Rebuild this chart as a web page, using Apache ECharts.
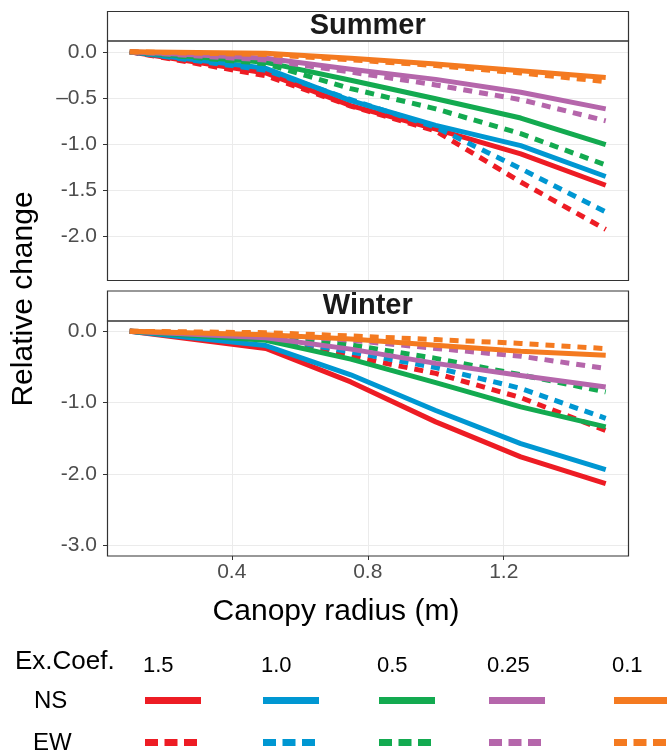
<!DOCTYPE html>
<html>
<head>
<meta charset="utf-8">
<script src="https://cdn.jsdelivr.net/npm/echarts@6/dist/echarts.min.js"></script>
<style>
  html, body { margin: 0; padding: 0; background: #fff; }
  #chart { width: 667px; height: 753px; }
</style>
</head>
<body>
<div id="chart"></div>
<script>
// canopy radius (m)
var radius = [0.1, 0.5, 0.75, 1.0, 1.25, 1.5]
var coefs = ['1.5', '1.0', '0.5', '0.25', '0.1']
var colors = ['#ED1C24', '#0097D2', '#13AA50', '#B566AB', '#F47A20']
var xTicks = [0.4, 0.8, 1.2]
var summerTicks = [-2.0, -1.5, -1.0, -0.5, 0.0]
var winterTicks = [-3.0, -2.0, -1.0, 0.0]

// relative change, one row per ex. coef (1.5, 1.0, 0.5, 0.25, 0.1)
var summerNS = [
  [0, -0.23, -0.585, -0.84, -1.11, -1.45],
  [0, -0.18, -0.53, -0.80, -1.02, -1.355],
  [0, -0.115, -0.31, -0.51, -0.72, -1.01],
  [0, -0.07, -0.19, -0.30, -0.44, -0.62],
  [0, -0.015, -0.07, -0.134, -0.205, -0.28]
]
var summerEW = [
  [0, -0.26, -0.59, -0.86, -1.415, -1.93],
  [0, -0.20, -0.52, -0.82, -1.27, -1.74],
  [0, -0.13, -0.40, -0.62, -0.89, -1.23],
  [0, -0.09, -0.22, -0.36, -0.52, -0.75],
  [0, -0.03, -0.087, -0.15, -0.23, -0.325]
]
var winterNS = [
  [0, -0.24, -0.71, -1.27, -1.76, -2.135],
  [0, -0.20, -0.61, -1.11, -1.575, -1.94],
  [0, -0.126, -0.39, -0.72, -1.06, -1.34],
  [0, -0.09, -0.25, -0.45, -0.62, -0.78],
  [0, -0.05, -0.11, -0.196, -0.28, -0.336]
]
var winterEW = [
  [0, -0.09, -0.35, -0.59, -0.93, -1.39],
  [0, -0.08, -0.29, -0.51, -0.80, -1.22],
  [0, -0.06, -0.19, -0.38, -0.61, -0.85],
  [0, -0.04, -0.126, -0.24, -0.35, -0.52],
  [0, -0.02, -0.065, -0.117, -0.17, -0.243]
]

var FONT = '"Liberation Sans", Arial, Helvetica, sans-serif'
var PL = 107, PR = 628.5
var legendX = [145, 263, 379, 489, 614]

function pairs (vals) {
  return radius.map(function (r, i) { return [r, vals[i]] })
}

function fmtY (v) {
  if (v === -0.5) return '\u20130.5'
  return v.toFixed(1)
}

var series = []
function addSeries (idx, ns, ew) {
  for (var i = 0; i < coefs.length; i++) {
    series.push({
      type: 'line', xAxisIndex: idx, yAxisIndex: idx, data: pairs(ns[i]),
      showSymbol: false, silent: true,
      lineStyle: { color: colors[i], width: 5, cap: 'butt', join: 'round' }
    })
    series.push({
      type: 'line', xAxisIndex: idx, yAxisIndex: idx, data: pairs(ew[i]),
      showSymbol: false, silent: true,
      lineStyle: { color: colors[i], width: 5, type: [9, 7], cap: 'butt', join: 'round' }
    })
  }
}
addSeries(0, summerNS, summerEW)
addSeries(1, winterNS, winterEW)

function xAxis (idx, showLabels) {
  return {
    type: 'value', gridIndex: idx, position: 'bottom', min: 0.033, max: 1.567,
    minInterval: 0.4, maxInterval: 0.4,
    axisLine: { show: false, onZero: false },
    axisTick: { show: showLabels, customValues: xTicks, length: 4, lineStyle: { color: '#333' } },
    axisLabel: {
      show: showLabels, customValues: xTicks, margin: 6,
      formatter: function (v) { return v.toFixed(1) },
      fontSize: 21, fontFamily: FONT, color: '#4d4d4d'
    },
    splitLine: { show: true, lineStyle: { color: '#ebebeb', width: 1 } }
  }
}

function yAxis (idx, min, max, step, ticks) {
  return {
    type: 'value', gridIndex: idx, position: 'left', min: min, max: max,
    minInterval: step, maxInterval: step,
    axisLine: { show: false, onZero: false },
    axisTick: { show: true, customValues: ticks, length: 4, lineStyle: { color: '#333' } },
    axisLabel: {
      customValues: ticks, margin: 10, formatter: fmtY,
      fontSize: 21, fontFamily: FONT, color: '#4d4d4d'
    },
    splitLine: { show: true, lineStyle: { color: '#ebebeb', width: 1 } }
  }
}

function txt (text, x, y, size, opts) {
  opts = opts || {}
  return {
    type: 'text', x: x, y: y, rotation: opts.rotation || 0, z: 20,
    style: {
      text: text, x: 0, y: 0,
      font: (opts.bold ? 'bold ' : '') + size + 'px ' + FONT,
      fill: opts.color || '#000',
      align: opts.align || 'left', verticalAlign: 'middle',
      textAlign: opts.align || 'left', textVerticalAlign: 'middle'
    }
  }
}

function box (y, h) {
  return {
    type: 'rect', z: 15, silent: true,
    shape: { x: PL + 0.5, y: y, width: PR - PL - 0.5, height: h },
    style: { fill: null, stroke: '#333', lineWidth: 1.2 }
  }
}

var graphics = [
  box(11.5, 29.5), box(41, 239.5),
  box(291, 30), box(321, 235),
  txt('Summer', (PL + PR) / 2, 26, 29, { bold: true, align: 'center', color: '#1a1a1a' }),
  txt('Winter', (PL + PR) / 2, 306, 29, { bold: true, align: 'center', color: '#1a1a1a' }),
  txt('Relative change', 24, 299, 30, { align: 'center', rotation: Math.PI / 2 }),
  txt('Canopy radius (m)', 336, 612, 30, { align: 'center' }),
  txt('Ex.Coef.', 15, 662, 26),
  txt('NS', 34, 701.5, 24),
  txt('EW', 33, 743.5, 24)
]
for (var i = 0; i < coefs.length; i++) {
  graphics.push(txt(coefs[i], legendX[i] - 2, 665.5, 22))
  graphics.push({
    type: 'line', z: 20,
    shape: { x1: legendX[i], y1: 700.5, x2: legendX[i] + 56, y2: 700.5 },
    style: { stroke: colors[i], lineWidth: 7 }
  })
  graphics.push({
    type: 'line', z: 20,
    shape: { x1: legendX[i], y1: 742.5, x2: legendX[i] + 53, y2: 742.5 },
    style: { stroke: colors[i], lineWidth: 7, lineDash: [13, 6.5] }
  })
}

var chart = echarts.init(document.getElementById('chart'), null, { renderer: 'canvas' })
chart.setOption({
  animation: false,
  backgroundColor: '#fff',
  grid: [
    { left: PL, right: 667 - PR, top: 41, height: 239.5, outerBoundsMode: 'none' },
    { left: PL, right: 667 - PR, top: 321, height: 235, outerBoundsMode: 'none' }
  ],
  xAxis: [xAxis(0, false), xAxis(1, true)],
  yAxis: [
    yAxis(0, -2.485, 0.117, 0.5, summerTicks),
    yAxis(1, -3.15, 0.144, 1, winterTicks)
  ],
  series: series,
  graphic: graphics
})
</script>
</body>
</html>
